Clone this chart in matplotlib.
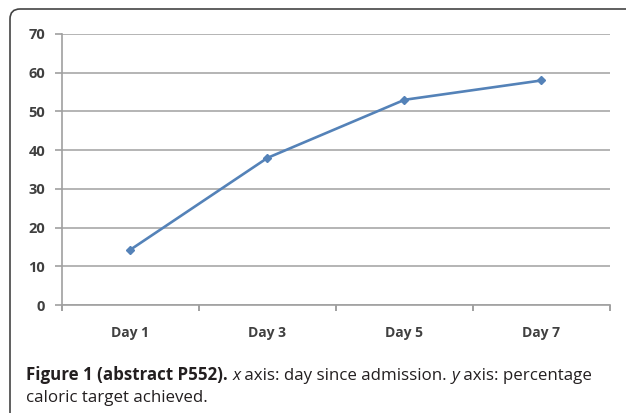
import matplotlib
matplotlib.use("Agg")
import matplotlib.pyplot as plt
from matplotlib.patches import FancyBboxPatch

days = ["Day 1", "Day 3", "Day 5", "Day 7"]
pct = [14.3, 38, 53, 58]
yticks = [0, 10, 20, 30, 40, 50, 60, 70]

plt.rcParams['font.family'] = ['Open Sans', 'DejaVu Sans']

fig = plt.figure(figsize=(6.26, 4.13), dpi=100)
ax = fig.add_axes([0.099, 0.2615, 0.8754, 0.6562])

x = list(range(len(days)))
ax.plot(x, pct, color="#5482b8", lw=1.9, marker="D", ms=4)

ax.set_xlim(-0.5, len(days) - 0.5)
ax.set_ylim(0, 70)
ax.set_yticks(yticks)
ax.set_yticklabels([str(v) for v in yticks], fontsize=10.5, fontweight="bold", color="#404040")
ax.set_xticks(x)
ax.set_xticklabels(days, fontsize=10, fontweight="bold", color="#404040")
ax.tick_params(axis="x", length=0, pad=15)
ax.set_xticks([i - 0.5 for i in range(len(days) + 1)], minor=True)
ax.tick_params(axis="x", which="minor", length=4, color="#909090", width=1.2)
ax.tick_params(axis="y", length=5, color="#a0a0a0", width=1.2, pad=7)
ax.grid(axis="y", color="#a8a8a8", lw=1.2)
ax.set_axisbelow(True)
for s in ["top", "right"]:
    ax.spines[s].set_visible(False)
for s in ["left", "bottom"]:
    ax.spines[s].set_color("#a0a0a0")
    ax.spines[s].set_linewidth(1.2)

# outer rounded frame (pixel coords)
frame = FancyBboxPatch((10, -30), 660, 413 - 9 + 30,
                       boxstyle="round,pad=0,rounding_size=10",
                       transform=None, fill=False, edgecolor="#444444", lw=1.2)
fig.add_artist(frame)

# caption, placed piece by piece
fig.canvas.draw()
r = fig.canvas.get_renderer()

def line(pieces, x0, y0):
    xx = x0
    for txt, style, weight in pieces:
        t = fig.text(xx, y0, txt, transform=None, fontsize=12.2, fontstyle=style,
                     fontweight=weight, color="#231f20", va="baseline")
        bb = t.get_window_extent(renderer=r)
        xx = bb.x1

line([("Figure 1 (abstract P552).", "normal", "bold"),
      (" ", "normal", "normal"),
      ("x", "italic", "normal"),
      (" axis: day since admission. ", "normal", "normal"),
      ("y", "italic", "normal"),
      (" axis: percentage", "normal", "normal")], 26, 413 - 380)
line([("caloric target achieved.", "normal", "normal")], 26, 413 - 402)

fig.savefig("out.png", dpi=100)
